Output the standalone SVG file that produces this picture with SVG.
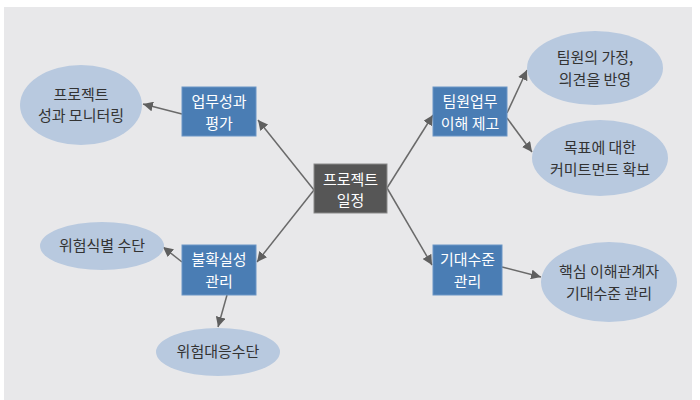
<svg xmlns="http://www.w3.org/2000/svg" width="700" height="400" viewBox="0 0 700 400">
<defs>
<marker id="ah" viewBox="0 0 10 10" refX="10" refY="5" markerWidth="10" markerHeight="10" markerUnits="userSpaceOnUse" orient="auto">
<path d="M0,0 L10,5 L0,10 z" fill="#5f5f5f"/>
</marker>
<style>
text{font-family:"Noto Sans CJK KR","Noto Sans",sans-serif;font-size:15px;text-anchor:middle}
.box{fill:#4a7db4;stroke:#6b96c6;stroke-width:1}
.boxt{fill:#ffffff}
.ell{fill:#b8c9df}
.ellt{fill:#333333}
.conn line{stroke:#6a6a6a;stroke-width:1.5;marker-end:url(#ah)}
</style>
</defs>
<rect x="0" y="0" width="700" height="400" fill="#ffffff"/>
<rect x="4" y="7" width="688" height="393" fill="#e8e8ea"/>
<g class="conn" id="connectors">
<line x1="314" y1="190" x2="258" y2="120"/>
<line x1="314" y1="190" x2="257" y2="262"/>
<line x1="387" y1="188" x2="433" y2="115"/>
<line x1="387" y1="188" x2="432" y2="265"/>
<line x1="182" y1="114" x2="143" y2="104"/>
<line x1="182" y1="262" x2="163" y2="247"/>
<line x1="227" y1="295" x2="218" y2="327"/>
<line x1="507" y1="113" x2="527" y2="70"/>
<line x1="507" y1="118" x2="532" y2="152"/>
<line x1="502" y1="267" x2="541" y2="277"/>
</g>
<g id="center">
<rect x="314" y="164" width="73" height="49" fill="#565656" stroke="#8a8a8a" stroke-width="1"/>
<text class="boxt" x="350.5" y="185">프로젝트</text>
<text class="boxt" x="350.5" y="206">일정</text>
</g>
<g id="perf">
<rect class="box" x="182" y="87" width="74" height="49"/>
<text class="boxt" x="219" y="107">업무성과</text>
<text class="boxt" x="219" y="129">평가</text>
</g>
<g id="perf-mon">
<ellipse class="ell" cx="81" cy="105" rx="61" ry="40"/>
<text class="ellt" x="81" y="100">프로젝트</text>
<text class="ellt" x="81" y="121">성과 모니터링</text>
</g>
<g id="team">
<rect class="box" x="433" y="87" width="74" height="49"/>
<text class="boxt" x="470" y="107">팀원업무</text>
<text class="boxt" x="470" y="129">이해 제고</text>
</g>
<g id="team-opinion">
<ellipse class="ell" cx="595" cy="68" rx="68" ry="37"/>
<text class="ellt" x="595" y="63">팀원의 가정,</text>
<text class="ellt" x="595" y="85">의견을 반영</text>
</g>
<g id="team-commit">
<ellipse class="ell" cx="600" cy="158" rx="68" ry="38"/>
<text class="ellt" x="600" y="153">목표에 대한</text>
<text class="ellt" x="600" y="175">커미트먼트 확보</text>
</g>
<g id="uncert">
<rect class="box" x="182" y="245" width="74" height="50"/>
<text class="boxt" x="219" y="265">불확실성</text>
<text class="boxt" x="219" y="287">관리</text>
</g>
<g id="risk-id">
<ellipse class="ell" cx="102" cy="246" rx="62" ry="24"/>
<text class="ellt" x="102" y="251">위험식별 수단</text>
</g>
<g id="risk-resp">
<ellipse class="ell" cx="218" cy="352" rx="62" ry="24"/>
<text class="ellt" x="218" y="357">위험대응수단</text>
</g>
<g id="expect">
<rect class="box" x="433" y="245" width="69" height="50"/>
<text class="boxt" x="467.5" y="265">기대수준</text>
<text class="boxt" x="467.5" y="287">관리</text>
</g>
<g id="stake">
<ellipse class="ell" cx="609" cy="282" rx="68" ry="40"/>
<text class="ellt" x="609" y="277">핵심 이해관계자</text>
<text class="ellt" x="609" y="299">기대수준 관리</text>
</g>
</svg>
